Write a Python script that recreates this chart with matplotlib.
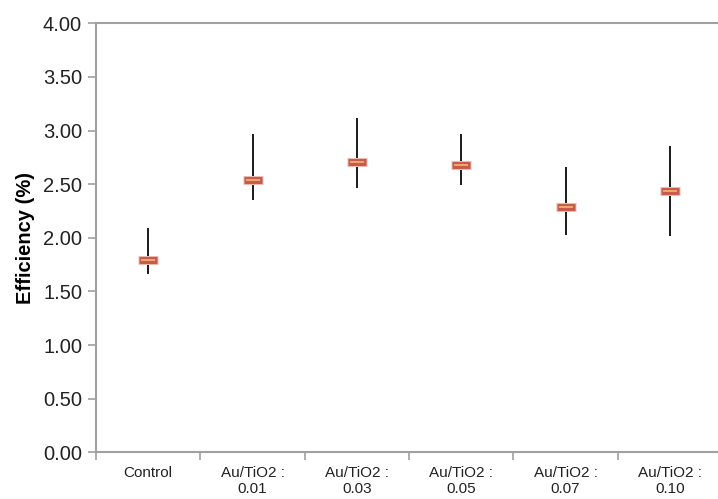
import numpy as np
import matplotlib
matplotlib.use('Agg')
import matplotlib.pyplot as plt

plt.rcParams['font.family'] = ['Liberation Sans', 'DejaVu Sans']

categories = ['Control', 'Au/TiO2 :\n0.01', 'Au/TiO2 :\n0.03', 'Au/TiO2 :\n0.05',
              'Au/TiO2 :\n0.07', 'Au/TiO2 :\n0.10']
high = [2.09, 2.97, 3.12, 2.97, 2.66, 2.86]
low = [1.66, 2.35, 2.46, 2.49, 2.03, 2.02]
mean = [1.79, 2.54, 2.71, 2.68, 2.29, 2.44]
yticks = [0.0, 0.5, 1.0, 1.5, 2.0, 2.5, 3.0, 3.5, 4.0]

x = np.arange(len(categories))

fig = plt.figure(figsize=(7.18, 4.99), dpi=100)
ax = fig.add_axes([0.1337, 0.0936, 0.872, 0.8597])

# high-low lines
ax.vlines(x, low, high, color='#1a1a1a', lw=1.4, zorder=2)

# close markers (red bar with orange centre)
ax.plot(x, mean, ls='none', marker='_', ms=15, mew=6.5, color='#ebbcb4', zorder=3)
ax.plot(x, mean, ls='none', marker='_', ms=13.5, mew=5, color='#c85a4c', zorder=4)
ax.plot(x, mean, ls='none', marker='_', ms=10, mew=1.3, color='#f0b070', zorder=5)

ax.set_xlim(-0.5, len(categories) - 0.5)
ax.set_ylim(0, 4)
ax.set_yticks(yticks)
ax.set_yticklabels(['%.2f' % v for v in yticks], fontsize=14.5, color='#222222')

ax.set_xticks(np.arange(len(categories) + 1) - 0.5)
ax.set_xticklabels([])
ax.set_xticks(x, minor=True)
ax.set_xticklabels(categories, minor=True, fontsize=11, color='#222222',
                   linespacing=1.15)
ax.tick_params(axis='x', which='minor', length=0, pad=10)
ax.tick_params(axis='x', which='major', length=6, color='#a0a0a0', width=1.2)
ax.tick_params(axis='y', length=6, color='#a0a0a0', width=1.2, pad=4)

for s in ax.spines.values():
    s.set_color('#a0a0a0')
    s.set_linewidth(1.5)

ax.set_ylabel('Efficiency (%)', fontsize=14.5, fontweight='bold', labelpad=6)

fig.savefig('out.png', dpi=100)
